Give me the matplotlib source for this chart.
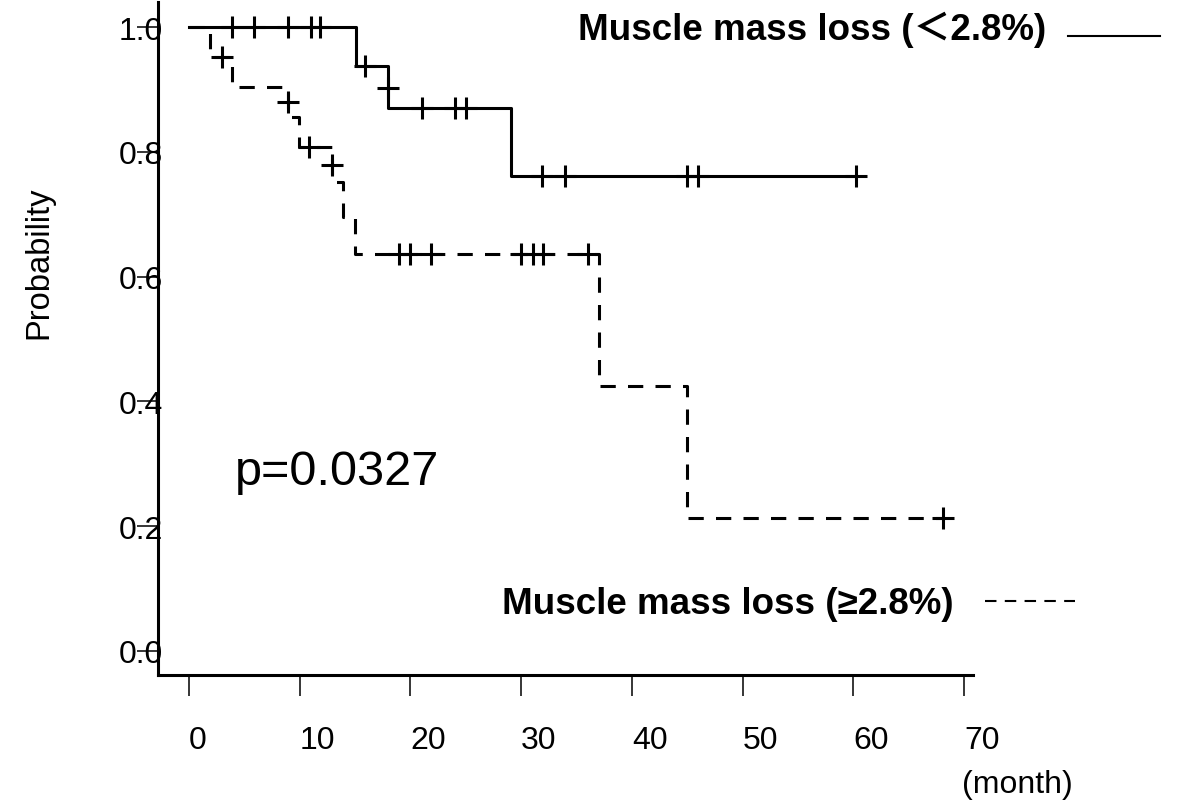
import matplotlib
matplotlib.use("Agg")
from matplotlib import pyplot as plt
from matplotlib.lines import Line2D

plt.rcParams['font.family'] = ['Liberation Sans', 'Noto Sans CJK JP', 'DejaVu Sans']

# group with muscle mass loss < 2.8% (solid line)
low_times = [0, 15.05, 17.95, 29.05]
low_surv = [1.0, 0.9375, 0.8705, 0.7617]
low_end = 60.2
low_cens_t = [3.86, 5.87, 8.97, 10.99, 11.83, 15.9, 17.95, 21.0, 24.0, 25.0,
              31.9, 34.0, 45.0, 46.0, 60.2]
low_cens_s = [1.0, 1.0, 1.0, 1.0, 1.0, 0.9375, 0.902, 0.8705, 0.8705, 0.8705,
              0.7617, 0.7617, 0.7617, 0.7617, 0.7617]

# group with muscle mass loss >= 2.8% (dashed line)
high_times = [0, 1.9, 3.86, 8.97, 9.9, 12.9, 13.9, 14.95, 37.0, 45.0]
high_surv = [1.0, 0.952, 0.904, 0.856, 0.807, 0.752, 0.696, 0.637, 0.425, 0.2125]
high_end = 68.1
high_cens_t = [2.95, 8.97, 10.8, 12.9, 19.0, 20.0, 21.9, 30.0, 31.1, 32.0, 36.0, 68.1]
high_cens_s = [0.952, 0.88, 0.807, 0.779, 0.637, 0.637, 0.637, 0.637, 0.637, 0.637,
               0.637, 0.2125]

x_ticks = [0, 10, 20, 30, 40, 50, 60, 70]
y_ticks = [0.0, 0.2, 0.4, 0.6, 0.8, 1.0]
y_ticklabels = ['0.0', '0.2', '0.4', '0.6', '0.8', '1.0']

label_low = 'Muscle mass loss (\uff1c2.8%)'
label_high = 'Muscle mass loss (\u22652.8%)'
p_text = 'p=0.0327'

W, H = 1178, 803
fig = plt.figure(figsize=(W / 100, H / 100), dpi=100)
ax = fig.add_axes([158 / W, 1 - 676 / H, (973 - 158) / W, (676 - 3) / H])
ax.set_xlim(-2.8, 70.81)
ax.set_ylim(-0.0385, 1.0401)

lw = 2.2
ax.step(low_times + [low_end], low_surv + [low_surv[-1]], where='post',
        color='black', lw=lw)
ax.step(high_times + [high_end], high_surv + [high_surv[-1]], where='post',
        color='black', lw=lw, linestyle=(0, (5, 4)), dash_capstyle='butt')
ax.plot(low_cens_t, low_cens_s, linestyle='none', marker='+', ms=16.5,
        mew=lw, color='black')
ax.plot(high_cens_t, high_cens_s, linestyle='none', marker='+', ms=16.5,
        mew=lw, color='black')

for side in ['top', 'right']:
    ax.spines[side].set_visible(False)
for side in ['left', 'bottom']:
    ax.spines[side].set_linewidth(lw)

ax.set_xticks(x_ticks)
ax.set_yticks(y_ticks)
ax.set_yticklabels(y_ticklabels)
ax.tick_params(axis='both', direction='out', length=15, width=1.1, labelsize=23)
ax.tick_params(axis='y', pad=-18.7)
ax.tick_params(axis='x', pad=21)
for lbl in ax.get_xticklabels():
    lbl.set_horizontalalignment('left')

ax.text(4.15, 0.2676, p_text, fontsize=35, va='baseline', ha='left')

fig.text(39 / W, 1 - 263 / H, 'Probability', rotation=90, fontsize=23.5,
         ha='center', va='center')
fig.text(962 / W, 1 - 770 / H, '(month)', fontsize=23, ha='left', va='top')

fig.text(578 / W, 1 - 40 / H, label_low, fontsize=26.5, fontweight='bold',
         ha='left', va='baseline')
fig.text(502 / W, 1 - 614 / H, label_high, fontsize=26.5, fontweight='bold',
         ha='left', va='baseline')
fig.add_artist(Line2D([1068 / W, 1160 / W], [1 - 37 / H, 1 - 37 / H],
                      color='black', lw=1.5))
fig.add_artist(Line2D([985 / W, 1075 / W], [1 - 602 / H, 1 - 602 / H],
                      color='black', lw=1.5, linestyle=(0, (5.5, 4))))

fig.savefig('out.png', dpi=100)
